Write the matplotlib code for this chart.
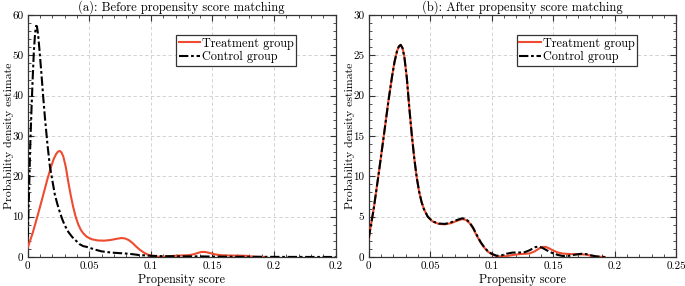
import matplotlib
matplotlib.use("Agg")
import matplotlib.pyplot as plt
from matplotlib.ticker import MultipleLocator, FixedLocator

plt.rcParams['font.family'] = ['cmr10', 'DejaVu Serif']
plt.rcParams['axes.formatter.use_mathtext'] = True
plt.rcParams['mathtext.fontset'] = 'cm'

# ---------------- data ----------------
score_grid = [0, 0.004, 0.008, 0.012, 0.016, 0.019, 0.021, 0.023, 0.0245, 0.026,
              0.0275, 0.029, 0.031, 0.033, 0.035, 0.037, 0.039, 0.041, 0.043, 0.045,
              0.048, 0.052, 0.057, 0.062, 0.067, 0.072, 0.076, 0.079, 0.082, 0.085,
              0.088, 0.091, 0.094, 0.097, 0.100, 0.104, 0.108, 0.112, 0.117, 0.122,
              0.127, 0.131, 0.135, 0.138, 0.141, 0.144, 0.147, 0.150, 0.154, 0.158,
              0.163, 0.168, 0.173, 0.177, 0.181, 0.185, 0.189, 0.192]

treatment = [2.3, 5.9, 10.2, 14.7, 19.3, 22.4, 24.2, 25.5, 26.1, 26.3,
             25.9, 24.8, 22.2, 18.5, 15.2, 12.3, 9.9, 8.1, 6.8, 5.9,
             5.0, 4.4, 4.1, 4.05, 4.2, 4.5, 4.7, 4.6, 4.2, 3.5,
             2.6, 1.8, 1.15, 0.65, 0.35, 0.12, 0.05, 0.1, 0.25, 0.35,
             0.4, 0.45, 0.7, 1.0, 1.25, 1.25, 1.05, 0.8, 0.55, 0.42,
             0.37, 0.34, 0.33, 0.3, 0.15, 0.06, 0.02, 0.0]

control_after = [2.3, 5.9, 10.2, 14.7, 19.3, 22.4, 24.2, 25.5, 26.1, 26.3,
                 25.9, 24.8, 22.2, 18.5, 15.2, 12.3, 9.9, 8.1, 6.8, 5.9,
                 5.0, 4.4, 4.15, 4.1, 4.3, 4.6, 4.8, 4.7, 4.3, 3.6,
                 2.7, 1.85, 1.2, 0.7, 0.4, 0.15, 0.2, 0.4, 0.55, 0.55,
                 0.6, 0.85, 1.2, 1.3, 1.15, 0.9, 0.65, 0.45, 0.25, 0.12,
                 0.15, 0.3, 0.4, 0.35, 0.2, 0.08, 0.02, 0.0]

control_before_x = [0, 0.001, 0.002, 0.003, 0.004, 0.005, 0.006, 0.0068, 0.0075, 0.0085,
                    0.0095, 0.011, 0.0125, 0.014, 0.016, 0.018, 0.020, 0.022, 0.024, 0.026,
                    0.028, 0.030, 0.033, 0.036, 0.039, 0.042, 0.045, 0.048, 0.051, 0.055,
                    0.06, 0.065, 0.07, 0.075, 0.08, 0.085, 0.09, 0.095, 0.1, 0.11,
                    0.12, 0.13, 0.14, 0.15, 0.16, 0.17, 0.18, 0.19, 0.2, 0.21,
                    0.22, 0.23, 0.24, 0.25]
control_before = [5, 15, 27, 36, 44, 51, 55.5, 57.3, 57.2, 55,
                  51.5, 46, 40, 34.5, 28, 22.5, 19, 15.5, 13.2, 11.2,
                  9.4, 7.9, 6.2, 5.0, 4.1, 3.2, 2.7, 2.5, 2.2, 1.8,
                  1.4, 1.2, 1.05, 0.95, 0.85, 0.7, 0.5, 0.4, 0.3, 0.2,
                  0.2, 0.15, 0.15, 0.1, 0.08, 0.06, 0.05, 0.04, 0.03, 0.02,
                  0.02, 0.01, 0.01, 0.0]

x_ticks = [0, 0.05, 0.1, 0.15, 0.2, 0.25]
x_labels_a = ["0", "0.05", "0.1", "0.15", "0.2", "0.2"]
x_labels_b = ["0", "0.05", "0.1", "0.15", "0.2", "0.25"]
y_ticks_a = [0, 10, 20, 30, 40, 50, 60]
y_ticks_b = [0, 5, 10, 15, 20, 25, 30]

titles = ["(a): Before propensity score matching", "(b): After propensity score matching"]
series_names = ["Treatment group", "Control group"]

RED = '#EE4B30'
FRAME = '#333333'

fig = plt.figure(figsize=(6.85, 2.86), dpi=100)
ax_a = fig.add_axes([27.7 / 685, 29 / 286, 308 / 685, 242 / 286])
ax_b = fig.add_axes([368.7 / 685, 29 / 286, 307.5 / 685, 242 / 286])


def style(ax, yticks, xlabels, ymin_step, title):
    ax.set_xlim(0, 0.25)
    ax.set_ylim(yticks[0], yticks[-1])
    ax.xaxis.set_major_locator(FixedLocator(x_ticks))
    ax.set_xticklabels(xlabels)
    ax.set_yticks(yticks)
    ax.set_yticklabels([str(v) for v in yticks])
    ax.xaxis.set_minor_locator(MultipleLocator(0.01))
    ax.yaxis.set_minor_locator(MultipleLocator(ymin_step))
    ax.tick_params(which='both', direction='in', top=True, right=True,
                   color=FRAME, labelsize=8, pad=3)
    ax.tick_params(which='major', length=4, width=0.8)
    ax.tick_params(which='minor', length=2.2, width=0.6)
    ax.grid(True, which='major', color='#cccccc', linestyle=(0, (4, 3)), linewidth=0.6)
    ax.set_axisbelow(True)
    for s in ax.spines.values():
        s.set_color(FRAME)
        s.set_linewidth(0.9)
    ax.set_title(title, fontsize=9, pad=3)
    ax.set_xlabel("Propensity score", fontsize=8.7, labelpad=2)
    ax.set_ylabel("Probability density estimate", fontsize=8.5)
    ax.yaxis.set_label_coords(-0.046, 0.5)


dash = (0, (4.5, 1.3, 1.3, 1.3))

ax_a.plot(score_grid, treatment, color=RED, lw=1.5, label=series_names[0], zorder=3)
ax_a.plot(control_before_x, control_before, color='black', lw=1.5, linestyle=dash,
          label=series_names[1], zorder=4)
style(ax_a, y_ticks_a, x_labels_a, 2, titles[0])

ax_b.plot(score_grid, treatment, color=RED, lw=1.5, label=series_names[0], zorder=3)
ax_b.plot(score_grid, control_after, color='black', lw=1.5, linestyle=dash,
          label=series_names[1], zorder=4)
style(ax_b, y_ticks_b, x_labels_b, 1, titles[1])

for ax in (ax_a, ax_b):
    leg = ax.legend(loc='upper right', bbox_to_anchor=(0.872, 0.917), fontsize=8.8,
                    frameon=True, fancybox=False, handlelength=1.75, handletextpad=0.15,
                    borderpad=0.2, labelspacing=0.12, borderaxespad=0)
    leg.get_frame().set_edgecolor(FRAME)
    leg.get_frame().set_linewidth(0.9)
    leg.get_frame().set_alpha(1)

fig.savefig("out.png", dpi=100)
